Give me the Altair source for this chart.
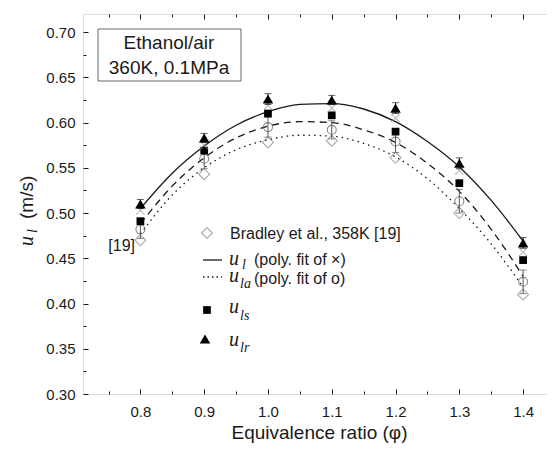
import altair as alt
import pandas as pd

# ---------------- data ----------------
phi = [0.8, 0.9, 1.0, 1.1, 1.2, 1.3, 1.4]
u_lr = [0.510, 0.583, 0.626, 0.625, 0.616, 0.555, 0.467]      # filled triangles
u_lr_err = [0.005, 0.005, 0.006, 0.005, 0.006, 0.006, 0.006]
u_l_x = [0.503, 0.575, 0.619, 0.616, 0.605, 0.547, 0.457]     # crosses
u_ls = [0.491, 0.569, 0.610, 0.608, 0.590, 0.533, 0.448]      # filled squares
u_la_o = [0.482, 0.560, 0.595, 0.592, 0.579, 0.513, 0.424]    # open circles
u_la_err = [0.010, 0.011, 0.011, 0.010, 0.012, 0.013, 0.013]
bradley = [0.470, 0.543, 0.578, 0.580, 0.561, 0.500, 0.410]   # open diamonds

fit_phi = [0.80, 0.85, 0.90, 0.95, 1.00, 1.05, 1.10, 1.15, 1.20, 1.25, 1.30, 1.35, 1.40]
fit_solid = [0.505, 0.544, 0.574, 0.597, 0.612, 0.620, 0.621, 0.615, 0.601, 0.579, 0.551, 0.514, 0.469]
fit_dash = [0.488, 0.530, 0.561, 0.583, 0.596, 0.601, 0.600, 0.592, 0.578, 0.555, 0.524, 0.482, 0.430]
fit_dot = [0.477, 0.520, 0.550, 0.570, 0.581, 0.586, 0.585, 0.577, 0.562, 0.538, 0.505, 0.466, 0.418]

x_major = [0.8, 0.9, 1.0, 1.1, 1.2, 1.3, 1.4]
x_minor = [0.75, 0.85, 0.95, 1.05, 1.15, 1.25, 1.35]
y_major = [0.30, 0.35, 0.40, 0.45, 0.50, 0.55, 0.60, 0.65, 0.70]
y_minor = [0.325, 0.375, 0.425, 0.475, 0.525, 0.575, 0.625, 0.675, 0.725]
x_domain = [0.71, 1.45]
y_domain = [0.30, 0.72]

box_lines = ["Ethanol/air", "360K, 0.1MPa"]
legend_bradley = "Bradley et al., 358K [19]"
legend_fit_l = "(poly. fit of \u00d7)"
legend_fit_la = "(poly. fit of o)"
ref_label = "[19]"
x_title = "Equivalence ratio (\u03c6)"

# ---------------- tables ----------------
pts = pd.DataFrame({
    "phi": phi, "u_lr": u_lr, "u_l": u_l_x, "u_ls": u_ls, "u_la": u_la_o, "brad": bradley,
    "lr_lo": [a - e for a, e in zip(u_lr, u_lr_err)], "lr_hi": [a + e for a, e in zip(u_lr, u_lr_err)],
    "la_lo": [a - e for a, e in zip(u_la_o, u_la_err)], "la_hi": [a + e for a, e in zip(u_la_o, u_la_err)],
})
fits = pd.DataFrame({"phi": fit_phi, "solid": fit_solid, "dash": fit_dash, "dot": fit_dot})

SANS = "Liberation Sans"
SERIF = "Liberation Serif"
INK = "#1a1a1a"

xs = alt.Scale(domain=x_domain, nice=False, zero=False)
ys = alt.Scale(domain=y_domain, nice=False, zero=False)


def ax(orient, values, size, labels=False, fmt=None, title=None, pad=None):
    kw = dict(orient=orient, values=values, offset=-size, tickSize=size, domain=False,
              grid=False, tickColor=INK, tickWidth=1, labels=labels, title=title)
    if labels:
        kw.update(format=fmt, labelFont=SANS, labelFontSize=15, labelColor=INK, labelPadding=pad)
    if title:
        kw.update(titleFont=SANS, titleFontSize=19, titleFontWeight="normal", titleColor=INK, titlePadding=4)
    return alt.Axis(**kw)


def X(field, axis=None):
    return alt.X(field, type="quantitative", scale=xs, axis=axis)


def Y(field, axis=None):
    return alt.Y(field, type="quantitative", scale=ys, axis=axis)


base_f = alt.Chart(fits)
base_p = alt.Chart(pts)

solid = base_f.mark_line(color=INK, strokeWidth=1.3, interpolate="monotone").encode(
    x=X("phi", ax("bottom", x_major, 5, labels=True, fmt=".1f", title=x_title, pad=10)),
    y=Y("solid", ax("left", y_major, 5, labels=True, fmt=".2f", pad=8)))
dash = base_f.mark_line(color=INK, strokeWidth=1.3, strokeDash=[7, 5], interpolate="monotone").encode(
    x=X("phi", ax("bottom", x_minor, 3)), y=Y("dash", ax("left", y_minor, 3)))
dot = base_f.mark_line(color=INK, strokeWidth=1.3, strokeDash=[1.5, 4], interpolate="monotone").encode(
    x=X("phi", ax("top", x_major, 5)), y=Y("dot", ax("right", y_major, 5)))

diam = base_p.mark_point(shape="diamond", filled=False, color="#888888", size=120, strokeWidth=1.1).encode(
    x=X("phi", ax("top", x_minor, 3)), y=Y("brad", ax("right", y_minor, 3)))
err_la = base_p.mark_errorbar(ticks=alt.MarkConfig(size=7), color="#555555").encode(
    x=X("phi"), y=Y("la_lo"), y2="la_hi")
circ = base_p.mark_point(shape="circle", filled=False, color="#555555", size=80, strokeWidth=1.1).encode(
    x=X("phi"), y=Y("u_la"))
sq = base_p.mark_point(shape="square", filled=True, color="#000000", size=60, opacity=1).encode(
    x=X("phi"), y=Y("u_ls"))
cross = base_p.mark_point(shape="M-1,-1L1,1M1,-1L-1,1", filled=False, color="#999999", size=70,
                          strokeWidth=1.1).encode(x=X("phi"), y=Y("u_l"))
err_lr = base_p.mark_errorbar(ticks=alt.MarkConfig(size=7), color="#222222").encode(
    x=X("phi"), y=Y("lr_lo"), y2="lr_hi")
tri = base_p.mark_point(shape="triangle-up", filled=True, color="#000000", size=110, opacity=1).encode(
    x=X("phi"), y=Y("u_lr"))

# ---------------- annotations (pixel positions inside the plot) ----------------
one = pd.DataFrame({"k": [0]})
ann = alt.Chart(one)


def txt(s, x, y, font=SANS, size=16, style="normal", align="left", baseline="middle", angle=0, color=INK):
    kw = dict(text=s, font=font, fontSize=size, fontStyle=style, align=align, baseline=baseline, color=color)
    if angle:
        kw["angle"] = angle
    return ann.mark_text(**kw).encode(x=alt.value(x), y=alt.value(y))


box = ann.mark_rect(fill="white", stroke="#666666", strokeWidth=1).encode(
    x=alt.value(15), x2=alt.value(158), y=alt.value(15), y2=alt.value(67))
box_t1 = txt(box_lines[0], 86, 29, size=19, align="center")
box_t2 = txt(box_lines[1], 86, 54, size=19, align="center")

ref_t = txt(ref_label, 52, 232, size=16, align="right")

leg_diam = ann.mark_point(shape="diamond", filled=False, color="#888888", size=120, strokeWidth=1.1).encode(
    x=alt.value(124), y=alt.value(219))
leg_t1 = txt(legend_bradley, 147, 219.5)

leg_solid = ann.mark_rule(color=INK, strokeWidth=1.3).encode(x=alt.value(120), x2=alt.value(139), y=alt.value(246))
leg_u1 = txt("u", 146, 251, font=SERIF, size=20, style="italic", baseline="alphabetic")
leg_s1 = txt("l", 159, 255, font=SERIF, size=14, style="italic", baseline="alphabetic")
leg_t2 = txt(legend_fit_l, 171, 246)

leg_dot = ann.mark_rule(color=INK, strokeWidth=1.3, strokeDash=[1.5, 3]).encode(
    x=alt.value(120), x2=alt.value(139), y=alt.value(263))
leg_u2 = txt("u", 146, 268, font=SERIF, size=20, style="italic", baseline="alphabetic")
leg_s2 = txt("la", 157, 274, font=SERIF, size=14, style="italic", baseline="alphabetic")
leg_t3 = txt(legend_fit_la, 171, 265)

leg_sq = ann.mark_point(shape="square", filled=True, color="#000000", size=60, opacity=1).encode(
    x=alt.value(124), y=alt.value(296))
leg_u3 = txt("u", 146, 299, font=SERIF, size=20, style="italic", baseline="alphabetic")
leg_s3 = txt("ls", 157, 306, font=SERIF, size=14, style="italic", baseline="alphabetic")

leg_tri = ann.mark_point(shape="triangle-up", filled=True, color="#000000", size=110, opacity=1).encode(
    x=alt.value(122), y=alt.value(325))
leg_u4 = txt("u", 146, 332, font=SERIF, size=20, style="italic", baseline="alphabetic")
leg_s4 = txt("lr", 157, 338, font=SERIF, size=14, style="italic", baseline="alphabetic")

# y axis title, built from pieces: u_l (m/s)
yt_u = txt("u", -50, 232, font=SERIF, size=20, style="italic", baseline="alphabetic", angle=270)
yt_l = txt("l", -46, 219, font=SERIF, size=14, style="italic", baseline="alphabetic", angle=270)
yt_r = txt("(m/s)", -56.5, 205, size=19, baseline="middle", angle=270)

chart = alt.layer(
    solid, dash, dot, diam, err_la, circ, sq, cross, err_lr, tri,
    box, box_t1, box_t2, ref_t,
    leg_diam, leg_t1, leg_solid, leg_u1, leg_s1, leg_t2,
    leg_dot, leg_u2, leg_s2, leg_t3,
    leg_sq, leg_u3, leg_s3, leg_tri, leg_u4, leg_s4,
    yt_u, yt_l, yt_r,
).resolve_axis(x="independent", y="independent").properties(
    width=472, height=380,
    autosize=alt.AutoSizeParams(type="none"),
    padding={"left": 75, "top": 6, "right": -8, "bottom": 49},
).configure_view(stroke=INK, strokeWidth=1.2).configure(background="white")

chart.save("out.html", embed_options={"renderer": "svg", "actions": False})
